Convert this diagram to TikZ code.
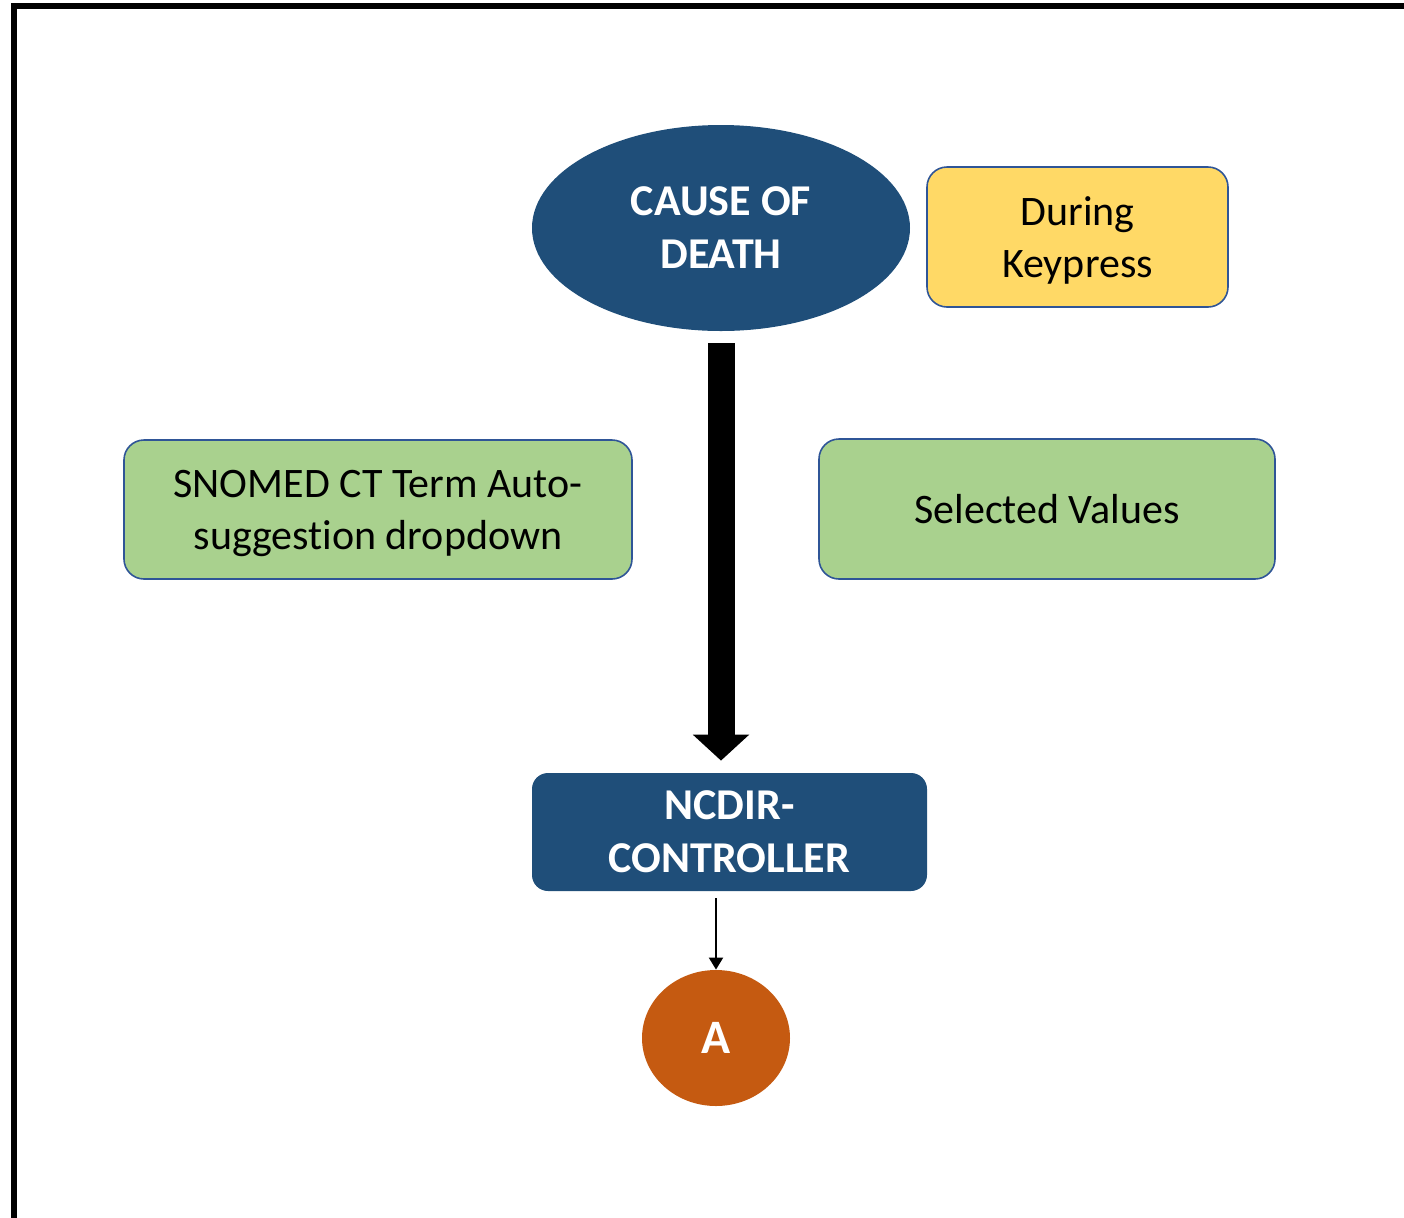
\documentclass[tikz,border=0pt]{standalone}
\usepackage{fontspec}
\setmainfont{Carlito}[Ligatures=NoCommon]
\usetikzlibrary{shapes.geometric,arrows.meta}
\definecolor{navy}{RGB}{31,78,121}
\definecolor{edgeblue}{RGB}{47,85,151}
\definecolor{keyyellow}{RGB}{255,217,102}
\definecolor{leafgreen}{RGB}{169,209,142}
\definecolor{rust}{RGB}{197,90,17}

\begin{document}
\begin{tikzpicture}[x=0.5pt,y=-0.5pt,
  dark/.style={fill=navy,text=white,font=\fontsize{22}{26.5}\selectfont\bfseries,align=center,inner sep=0pt,text depth=0pt},
  softbox/.style={rounded corners=10pt,draw=edgeblue,line width=0.8pt,align=center,inner sep=0pt,
    font=\fontsize{21}{26}\selectfont,text depth=0pt}]
\useasboundingbox (0,0) rectangle (1404,1217);
% frame
\draw[line width=3pt] (14,1230) -- (14,5.5) -- (1420,5.5);
% nodes
\node[dark, ellipse, minimum width=189pt, minimum height=103pt] (cod) at (721,228) {CAUSE OF\\DEATH};
\node[softbox, fill=keyyellow, minimum width=150.5pt, minimum height=70pt] (key) at (1077.5,237) {During\\Keypress};
\node[softbox, fill=leafgreen, minimum width=254pt, minimum height=69.5pt] (snomed) at (378,509.5) {SNOMED CT Term Auto-\\suggestion dropdown};
\node[softbox, fill=leafgreen, minimum width=228pt, minimum height=70pt] (selected) at (1047,509) {Selected Values};
\node[dark, rounded corners=8pt, minimum width=197.5pt, minimum height=59pt] (ncdir) at (729.5,832) {NCDIR-\\CONTROLLER};
\node[dark, ellipse, fill=rust, minimum width=74pt, minimum height=68pt, font=\fontsize{24}{26}\selectfont\bfseries] (a) at (716,1038) {A};
% connectors
\draw[line width=13.5pt, -{Triangle[length=13pt,width=27.5pt]}, shorten <=6pt, shorten >=6pt] (cod.south) -- (cod.south |- ncdir.north);
\draw[line width=1pt, -{Triangle[length=6pt,width=7pt]}, shorten <=3.5pt] (a.north |- ncdir.south) -- (a.north);
\end{tikzpicture}
\end{document}
